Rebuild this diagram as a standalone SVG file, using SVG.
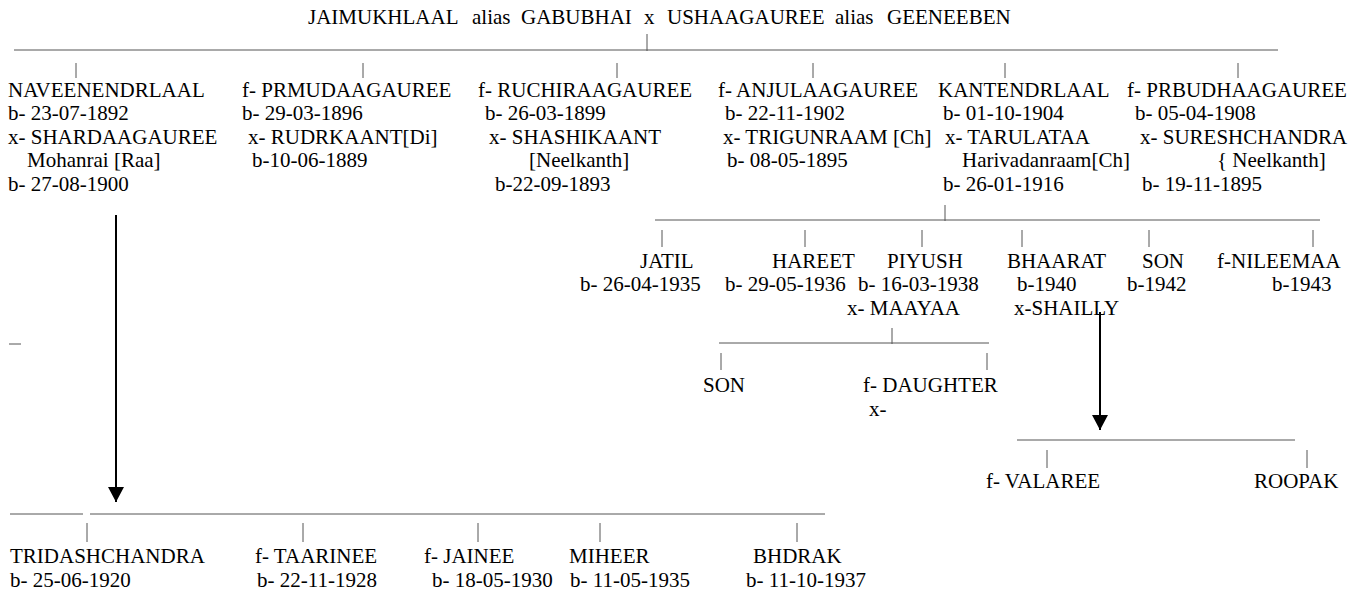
<svg xmlns="http://www.w3.org/2000/svg" width="1366" height="594" viewBox="0 0 1366 594">
<style>
text{font-family:'Liberation Serif','Times New Roman',serif;font-size:21px;fill:#000}
.ln{stroke:#555;stroke-width:1;fill:none}
.ar{stroke:#000;stroke-width:2;fill:none;marker-end:url(#ah)}
</style>
<defs>
<marker id="ah" markerUnits="userSpaceOnUse" markerWidth="15" markerHeight="16" refX="15" refY="8" orient="auto" viewBox="0 0 15 16">
<path d="M0,0 L15,8 L0,16 z" fill="#000"/>
</marker>
</defs>
<rect width="1366" height="594" fill="#fff"/>
<g id="connectors">
<line class="ln" x1="14" y1="50" x2="1278" y2="50"/>
<line class="ln" x1="647" y1="34" x2="647" y2="51"/>
<line class="ln" x1="76" y1="63" x2="76" y2="78"/>
<line class="ln" x1="363" y1="63" x2="363" y2="78"/>
<line class="ln" x1="617" y1="63" x2="617" y2="78"/>
<line class="ln" x1="813" y1="63" x2="813" y2="78"/>
<line class="ln" x1="1005" y1="63" x2="1005" y2="78"/>
<line class="ln" x1="1238" y1="63" x2="1238" y2="78"/>
<line class="ln" x1="655" y1="220" x2="1320" y2="220"/>
<line class="ln" x1="945" y1="205" x2="945" y2="221"/>
<line class="ln" x1="662" y1="230" x2="662" y2="247"/>
<line class="ln" x1="805" y1="230" x2="805" y2="247"/>
<line class="ln" x1="922" y1="230" x2="922" y2="247"/>
<line class="ln" x1="1022" y1="230" x2="1022" y2="247"/>
<line class="ln" x1="1149" y1="230" x2="1149" y2="247"/>
<line class="ln" x1="1313" y1="230" x2="1313" y2="247"/>
<line class="ln" x1="719" y1="343" x2="989" y2="343"/>
<line class="ln" x1="892" y1="328" x2="892" y2="344"/>
<line class="ln" x1="721" y1="353" x2="721" y2="370"/>
<line class="ln" x1="987" y1="353" x2="987" y2="370"/>
<line class="ln" x1="1017" y1="440" x2="1295" y2="440"/>
<line class="ln" x1="1047" y1="450" x2="1047" y2="468"/>
<line class="ln" x1="1307" y1="450" x2="1307" y2="468"/>
<line class="ln" x1="10" y1="514" x2="83" y2="514"/>
<line class="ln" x1="90" y1="514" x2="825" y2="514"/>
<line class="ln" x1="87" y1="523" x2="87" y2="542"/>
<line class="ln" x1="303" y1="523" x2="303" y2="542"/>
<line class="ln" x1="478" y1="523" x2="478" y2="542"/>
<line class="ln" x1="600" y1="523" x2="600" y2="542"/>
<line class="ln" x1="797" y1="523" x2="797" y2="542"/>
<line class="ln" x1="9" y1="344" x2="21" y2="344"/>
<line class="ar" x1="116" y1="215" x2="116" y2="502"/>
<line class="ar" x1="1100" y1="312" x2="1100" y2="430"/>
</g>
<g id="parents">
<text y="24"><tspan x="308">JAIMUKHLAAL</tspan><tspan x="472">alias</tspan><tspan x="521">GABUBHAI</tspan><tspan x="644">x</tspan><tspan x="667">USHAAGAUREE</tspan><tspan x="835">alias</tspan><tspan x="887">GEENEEBEN</tspan></text>
</g>
<g id="naveenendrlaal">
<text x="8" y="97">NAVEENENDRLAAL</text>
<text x="8" y="120">b- 23-07-1892</text>
<text x="8" y="144">x- SHARDAAGAUREE</text>
<text x="27" y="167">Mohanrai [Raa]</text>
<text x="8" y="191">b- 27-08-1900</text>
</g>
<g id="prmudaagauree">
<text x="242" y="97">f- PRMUDAAGAUREE</text>
<text x="242" y="120">b- 29-03-1896</text>
<text x="248" y="144">x- RUDRKAANT[Di]</text>
<text x="252" y="167">b-10-06-1889</text>
</g>
<g id="ruchiraagauree">
<text x="478" y="97">f- RUCHIRAAGAUREE</text>
<text x="485" y="120">b- 26-03-1899</text>
<text x="489" y="144">x- SHASHIKAANT</text>
<text x="529" y="167">[Neelkanth]</text>
<text x="495" y="191">b-22-09-1893</text>
</g>
<g id="anjulaagauree">
<text x="718" y="97">f- ANJULAAGAUREE</text>
<text x="725" y="120">b- 22-11-1902</text>
<text x="723" y="144">x- TRIGUNRAAM [Ch]</text>
<text x="727" y="167">b- 08-05-1895</text>
</g>
<g id="kantendrlaal">
<text x="938" y="97">KANTENDRLAAL</text>
<text x="943" y="120">b- 01-10-1904</text>
<text x="945" y="144">x- TARULATAA</text>
<text x="962" y="167">Harivadanraam[Ch]</text>
<text x="943" y="191">b- 26-01-1916</text>
</g>
<g id="prbudhaagauree">
<text x="1127" y="97">f- PRBUDHAAGAUREE</text>
<text x="1135" y="120">b- 05-04-1908</text>
<text x="1140" y="144">x- SURESHCHANDRA</text>
<text x="1217" y="167">{ Neelkanth]</text>
<text x="1142" y="191">b- 19-11-1895</text>
</g>
<g id="jatil">
<text x="640" y="268">JATIL</text>
<text x="580" y="291">b- 26-04-1935</text>
</g>
<g id="hareet">
<text x="772" y="268">HAREET</text>
<text x="725" y="291">b- 29-05-1936</text>
</g>
<g id="piyush">
<text x="887" y="268">PIYUSH</text>
<text x="858" y="291">b- 16-03-1938</text>
<text x="847" y="315">x- MAAYAA</text>
</g>
<g id="bhaarat">
<text x="1007" y="268">BHAARAT</text>
<text x="1017" y="291">b-1940</text>
<text x="1014" y="315">x-SHAILLY</text>
</g>
<g id="son-1942">
<text x="1142" y="268">SON</text>
<text x="1127" y="291">b-1942</text>
</g>
<g id="nileemaa">
<text x="1217" y="268">f-NILEEMAA</text>
<text x="1272" y="291">b-1943</text>
</g>
<g id="piyush-son">
<text x="703" y="392">SON</text>
</g>
<g id="piyush-daughter">
<text x="863" y="392">f- DAUGHTER</text>
<text x="869" y="416">x-</text>
</g>
<g id="valaree">
<text x="986" y="488">f- VALAREE</text>
</g>
<g id="roopak">
<text x="1254" y="488">ROOPAK</text>
</g>
<g id="tridashchandra">
<text x="10" y="563">TRIDASHCHANDRA</text>
<text x="10" y="587">b- 25-06-1920</text>
</g>
<g id="taarinee">
<text x="255" y="563">f- TAARINEE</text>
<text x="257" y="587">b- 22-11-1928</text>
</g>
<g id="jainee">
<text x="424" y="563">f- JAINEE</text>
<text x="432" y="587">b- 18-05-1930</text>
</g>
<g id="miheer">
<text x="569" y="563">MIHEER</text>
<text x="570" y="587">b- 11-05-1935</text>
</g>
<g id="bhdrak">
<text x="753" y="563">BHDRAK</text>
<text x="746" y="587">b- 11-10-1937</text>
</g>
</svg>
